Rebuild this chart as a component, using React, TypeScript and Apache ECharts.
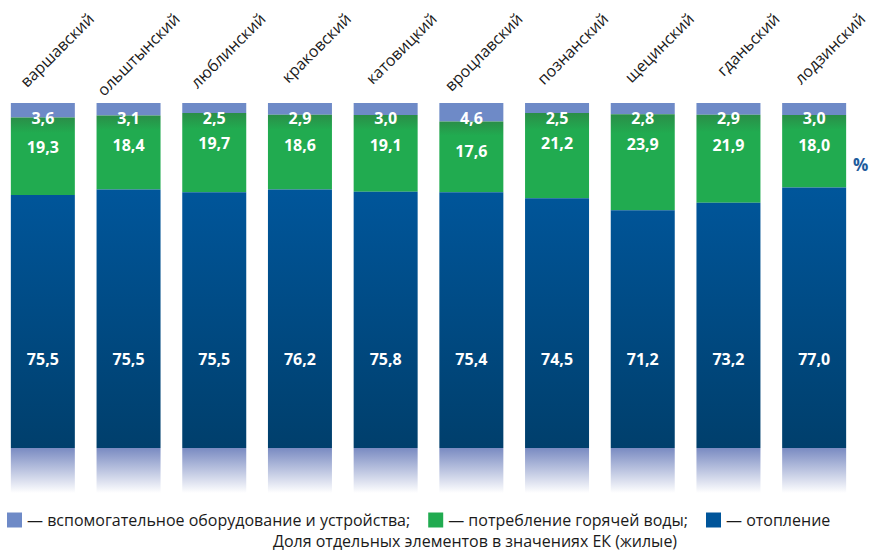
import React, { useEffect, useRef } from 'react';
import * as echarts from 'echarts';

const categories = ['варшавский', 'ольштынский', 'люблинский', 'краковский', 'катовицкий', 'вроцлавский', 'познанский', 'щецинский', 'гданьский', 'лодзинский'];
const auxiliary = [3.6, 3.1, 2.5, 2.9, 3.0, 4.6, 2.5, 2.8, 2.9, 3.0];
const hotWater = [19.3, 18.4, 19.7, 18.6, 19.1, 17.6, 21.2, 23.9, 21.9, 18.0];
const heating = [75.5, 75.5, 75.5, 76.2, 75.8, 75.4, 74.5, 71.2, 73.2, 77.0];
const seriesNames = ['вспомогательное оборудование и устройства', 'потребление горячей воды', 'отопление'];
const unitLabel = '%';
const caption = 'Доля отдельных элементов в значениях ЕК (жилые)';

const FONT = "'Open Sans', 'Noto Sans', sans-serif";
const TEXT = '#1a1a1a';

const fmt = (p: any) => Number(p.value).toFixed(1).replace('.', ',');
const labelBase = { show: true, color: '#ffffff', fontWeight: 'bold', fontSize: 16, fontFamily: FONT, formatter: fmt };

export default function App() {
  const ref = useRef<HTMLDivElement>(null);
  useEffect(() => {
    document.body.style.margin = '0';
    if (!ref.current) return;
    const chart = echarts.init(ref.current, null, { renderer: 'svg' });
    const heatingColor = new echarts.graphic.LinearGradient(0, 103, 0, 493, [
      { offset: 0, color: '#0059a0' },
      { offset: 0.22, color: '#00569b' },
      { offset: 0.884, color: '#003f6c' },
      { offset: 0.885, color: '#7a8bc2' },
      { offset: 1, color: '#ffffff' },
    ], true);
    const greenColor = new echarts.graphic.LinearGradient(0, 0, 0, 1, [
      { offset: 0, color: '#2a8e48' },
      { offset: 0.2, color: '#21ab50' },
      { offset: 1, color: '#21ab50' },
    ]);
    chart.setOption({
      animation: false,
      grid: { left: -3, right: 19, top: 103, bottom: 58 },
      title: [
        { text: unitLabel, left: 853, top: 156, padding: 0, textStyle: { fontSize: 17, fontWeight: 'bold', color: '#1d5b9c', fontFamily: FONT } },
        { text: caption, left: 273, top: 533, padding: 0, textStyle: { fontSize: 16, lineHeight: 16, fontWeight: 'normal', color: TEXT, fontFamily: FONT } },
      ],
      legend: {
        left: 7, top: 512, padding: 0, itemWidth: 15, itemHeight: 15, itemGap: 18, icon: 'rect',
        textStyle: { fontSize: 16, lineHeight: 16, color: TEXT, fontFamily: FONT },
        formatter: (name: string) => '— ' + name + (name === seriesNames[2] ? '' : ';'),
        data: [
          { name: seriesNames[0], itemStyle: { color: '#6e8ac7' } },
          { name: seriesNames[1], itemStyle: { color: '#21ab50' } },
          { name: seriesNames[2], itemStyle: { color: '#00559a' } },
        ],
      },
      xAxis: {
        type: 'category', position: 'top', data: categories,
        axisLine: { show: false }, axisTick: { show: false },
        axisLabel: {
          interval: 0, rotate: 45, align: 'center', verticalAlign: 'middle', margin: 39,
          fontSize: 16, color: TEXT, fontFamily: FONT,
          formatter: (v: string) => `{a|${v}}`,
          rich: { a: { width: 136, align: 'right', fontSize: 16, color: TEXT, fontFamily: FONT } },
        },
      },
      yAxis: { type: 'value', min: 0, max: 97, inverse: true, show: false },
      series: [
        {
          name: seriesNames[0], type: 'bar', stack: 'total', barWidth: 64, data: auxiliary, clip: true,
          itemStyle: { color: '#6e8ac7' },
          label: { ...labelBase, position: 'insideTop', distance: 7 },
        },
        {
          name: seriesNames[1], type: 'bar', stack: 'total', barWidth: 64, data: hotWater, clip: true,
          itemStyle: { color: greenColor },
          label: { ...labelBase, position: 'insideTop', distance: 22 },
        },
        {
          name: seriesNames[2], type: 'bar', stack: 'total', barWidth: 64, data: heating, clip: true,
          itemStyle: { color: heatingColor },
          label: { ...labelBase, position: 'insideBottom', distance: 126 },
        },
      ],
    });
    return () => chart.dispose();
  }, []);
  return <div ref={ref} style={{ width: 876, height: 551 }} />;
}
